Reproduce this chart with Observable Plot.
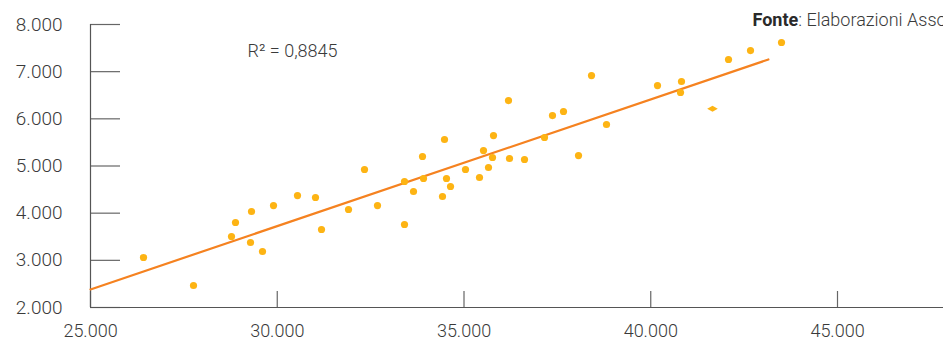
<!DOCTYPE html>
<html><head><meta charset="utf-8">
<script src="https://cdn.jsdelivr.net/npm/d3@7"></script>
<script src="https://cdn.jsdelivr.net/npm/@observablehq/plot@0.6"></script>
<style>html,body{margin:0;padding:0;overflow:hidden;background:#fff}</style>
</head><body><div id="chart"></div>
<script>
// Scatter data (x, y)
const pointsX = [26419, 27758, 28775, 28882, 29284, 29311, 29605, 29900, 30542, 31024, 31185, 31908, 32336, 32684,
  33407, 33407, 33648, 33889, 33916, 34424, 34478, 34531, 34639, 35040, 35415, 35522, 35656, 35763, 35790,
  36191, 36218, 36620, 37155, 37369, 37664, 38066, 38414, 38815, 40181, 40823, 40797, 42082, 42671, 43501];
const pointsY = [3060, 2466, 3505, 3802, 3378, 4035, 3187, 4162, 4374, 4332, 3654, 4078, 4926, 4162,
  4671, 3760, 4459, 5201, 4735, 4353, 5562, 4735, 4565, 4926, 4756, 5328, 4968, 5180, 5646,
  6388, 5159, 5138, 5604, 6070, 6155, 5222, 6918, 5880, 6706, 6791, 6558, 7258, 7448, 7618];
// one point drawn with a diamond marker
const diamondX = [41653];
const diamondY = [6215];
// trend line end points
const trendX = [25000, 43150];
const trendY = [2382, 7258];
// axes
const xTicks = [25000, 30000, 35000, 40000, 45000];
const yTicks = [2000, 3000, 4000, 5000, 6000, 7000, 8000];
const xDomain = [25000, 47838];
const yDomain = [2000, 8000];
// texts
const r2Label = "R\u00B2 = 0,8845";
const sourceBold = "Fonte";
const sourceRest = ": Elaborazioni Assolombarda";

const it = d3.formatLocale({decimal: ",", thousands: ".", grouping: [3], currency: ["€", ""]});
const fmt = it.format(",d");

const W = 943, H = 343, mL = 90, mR = 0, mT = 24, mB = 36;
const plotW = W - mL - mR, plotH = H - mT - mB;
const font = "Roboto";
const ctx = document.createElement("canvas").getContext("2d");
ctx.font = `700 18px ${font}`;
const boldW = ctx.measureText(sourceBold).width;

const pts = pointsX.map((x, i) => ({x, y: pointsY[i]}));
const dia = diamondX.map((x, i) => ({x, y: diamondY[i]}));
const trend = trendX.map((x, i) => ({x, y: trendY[i]}));

const chart = Plot.plot({
  width: W, height: H,
  marginLeft: mL, marginRight: mR, marginTop: mT, marginBottom: mB,
  style: {fontFamily: font, fontWeight: 300, background: "#fff", color: "#333"},
  x: {domain: xDomain, label: null},
  y: {domain: yDomain, label: null},
  marks: [
    Plot.ruleY(yTicks, {y: d => d, insetRight: plotW - 30, stroke: "#666", strokeWidth: 1.2}),
    Plot.ruleX(xTicks, {x: d => d, insetTop: plotH - 16, stroke: "#666", strokeWidth: 1.2}),
    Plot.ruleY([yDomain[0]], {stroke: "#555", strokeWidth: 1.2}),
    Plot.ruleX([xDomain[0]], {stroke: "#555", strokeWidth: 1.2}),
    Plot.axisY(yTicks, {tickSize: 0, tickPadding: 28, tickFormat: fmt, fontSize: 19, fill: "#3a3a3a", label: null}),
    Plot.axisX(xTicks, {tickSize: 0, tickPadding: 17, tickFormat: fmt, fontSize: 18, fill: "#3a3a3a", label: null}),
    Plot.line(trend, {x: "x", y: "y", stroke: "#F58220", strokeWidth: 2.2}),
    Plot.dot(pts, {x: "x", y: "y", r: 3.6, fill: "#FDB414", stroke: "none"}),
    Plot.dot(dia, {x: "x", y: "y", r: 3.2, symbol: "diamond", rotate: 90, fill: "#FDB414", stroke: "none"}),
    Plot.text([r2Label], {text: d => d, frameAnchor: "top-left", dx: 157, dy: 27, textAnchor: "start", lineAnchor: "middle", fontSize: 18, fill: "#3a3a3a"}),
    Plot.text([sourceBold], {text: d => d, frameAnchor: "top-left", dx: 662, dy: -4, textAnchor: "start", lineAnchor: "middle", fontSize: 18, fontWeight: 700, fill: "#2a2a2a"}),
    Plot.text([sourceRest], {text: d => d, frameAnchor: "top-left", dx: 662 + boldW, dy: -4, textAnchor: "start", lineAnchor: "middle", fontSize: 18, fill: "#3a3a3a"})
  ]
});
document.getElementById("chart").appendChild(chart);
</script>
</body></html>
